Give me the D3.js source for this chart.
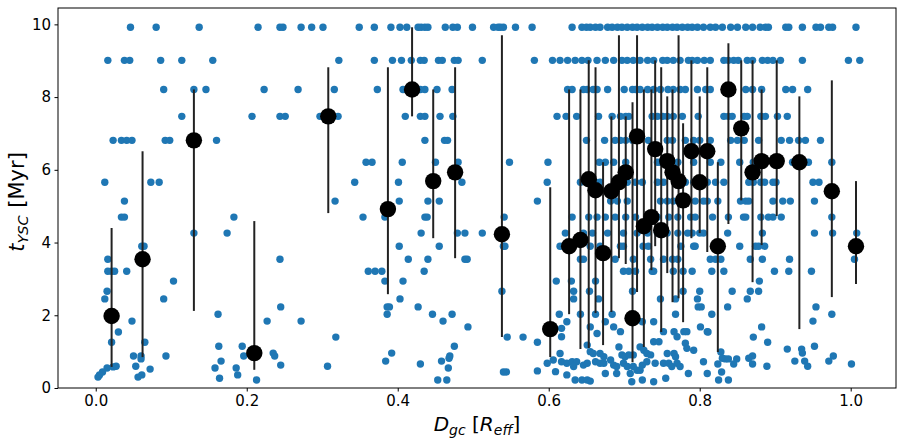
<!DOCTYPE html>
<html>
<head>
<meta charset="utf-8">
<script src="https://cdn.jsdelivr.net/npm/d3@7"></script>
<style>
  body { margin: 0; background: #fff; }
  svg { display: block; font-family: "DejaVu Sans", sans-serif; }
  .axis text { font-size: 15px; fill: #000; }
  .axis line { stroke: #000; }
</style>
</head>
<body>
<svg id="chart"></svg>
<script>
let w = 904;
let h = 446;

// discrete age grid of the models (Myr), one row of clusters per age
let ages = [9.92, 9.01, 8.21, 7.47, 6.81, 6.21, 5.66, 5.14, 4.70, 4.26, 3.90, 3.54, 3.21];

// D_gc of the clusters sitting on each age row above
let rowDist = [
  [0.046, 0.080, 0.137, 0.215, 0.244, 0.248, 0.272, 0.286, 0.301, 0.349, 0.369, 0.391, 0.403, 0.412, 0.427, 0.431, 0.436, 0.440, 0.463, 0.473, 0.479, 0.499, 0.527, 0.533, 0.536, 0.540, 0.556, 0.578, 0.631, 0.644, 0.650, 0.655, 0.662, 0.668, 0.678, 0.684, 0.691, 0.697, 0.704, 0.711, 0.717, 0.724, 0.731, 0.737, 0.744, 0.751, 0.757, 0.764, 0.770, 0.777, 0.784, 0.790, 0.797, 0.805, 0.814, 0.821, 0.830, 0.841, 0.850, 0.861, 0.870, 0.880, 0.887, 0.891, 0.914, 0.918, 0.936, 0.954, 0.960, 0.971, 0.976, 1.007],
  [0.016, 0.038, 0.045, 0.086, 0.114, 0.155, 0.322, 0.369, 0.393, 0.405, 0.418, 0.430, 0.435, 0.454, 0.459, 0.475, 0.480, 0.512, 0.581, 0.605, 0.615, 0.625, 0.635, 0.644, 0.652, 0.664, 0.675, 0.686, 0.697, 0.704, 0.712, 0.721, 0.731, 0.739, 0.751, 0.757, 0.765, 0.774, 0.785, 0.790, 0.797, 0.806, 0.814, 0.832, 0.838, 0.845, 0.851, 0.863, 0.870, 0.883, 0.890, 0.897, 0.907, 0.936, 0.997, 1.012],
  [0.090, 0.130, 0.146, 0.223, 0.268, 0.316, 0.373, 0.407, 0.419, 0.430, 0.436, 0.452, 0.472, 0.625, 0.631, 0.646, 0.651, 0.659, 0.664, 0.678, 0.700, 0.711, 0.715, 0.721, 0.731, 0.739, 0.748, 0.758, 0.765, 0.774, 0.781, 0.797, 0.808, 0.814, 0.838, 0.861, 0.870, 0.882, 0.914, 0.923, 0.943],
  [0.114, 0.207, 0.244, 0.251, 0.297, 0.321, 0.410, 0.430, 0.436, 0.456, 0.473, 0.611, 0.623, 0.637, 0.666, 0.684, 0.695, 0.702, 0.706, 0.737, 0.744, 0.751, 0.757, 0.765, 0.777, 0.798, 0.832, 0.838, 0.843, 0.859, 0.863, 0.881, 0.887, 0.903, 0.916],
  [0.023, 0.034, 0.041, 0.048, 0.092, 0.098, 0.160, 0.436, 0.462, 0.466, 0.650, 0.674, 0.688, 0.695, 0.702, 0.711, 0.732, 0.757, 0.764, 0.781, 0.792, 0.800, 0.814, 0.841, 0.850, 0.859, 0.878, 0.908, 0.919, 0.931, 0.940, 0.960],
  [0.358, 0.366, 0.406, 0.450, 0.480, 0.548, 0.599, 0.667, 0.675, 0.686, 0.702, 0.744, 0.748, 0.771, 0.792, 0.814, 0.828, 0.853, 0.871, 0.883, 0.923, 0.944, 0.975],
  [0.012, 0.073, 0.084, 0.343, 0.401, 0.485, 0.598, 0.642, 0.653, 0.662, 0.668, 0.691, 0.704, 0.715, 0.724, 0.744, 0.752, 0.771, 0.781, 0.792, 0.810, 0.821, 0.832, 0.865, 0.871, 0.881, 0.886, 0.897, 0.901, 0.950, 0.958],
  [0.038, 0.317, 0.402, 0.440, 0.455, 0.585, 0.682, 0.691, 0.704, 0.748, 0.757, 0.765, 0.778, 0.794, 0.805, 0.810, 0.824, 0.854, 0.861, 0.865, 0.897, 0.910, 0.920, 0.952],
  [0.034, 0.038, 0.183, 0.354, 0.383, 0.436, 0.439, 0.541, 0.631, 0.653, 0.664, 0.675, 0.688, 0.702, 0.715, 0.731, 0.744, 0.759, 0.771, 0.788, 0.794, 0.817, 0.838, 0.858, 0.861, 0.881, 0.891, 0.897, 0.908, 0.975],
  [0.130, 0.174, 0.431, 0.479, 0.489, 0.512, 0.622, 0.646, 0.658, 0.678, 0.699, 0.717, 0.731, 0.744, 0.757, 0.771, 0.784, 0.790, 0.800, 0.805, 0.837, 0.883, 0.952, 0.976, 1.008],
  [0.061, 0.064, 0.402, 0.455, 0.540, 0.542, 0.615, 0.625, 0.655, 0.668, 0.695, 0.699, 0.725, 0.732, 0.775, 0.792, 0.794, 0.853, 0.874, 0.878, 0.886],
  [0.016, 0.244, 0.414, 0.440, 0.489, 0.492, 0.642, 0.646, 0.688, 0.712, 0.735, 0.752, 0.764, 0.771, 0.814, 0.821, 0.828, 0.867, 0.883, 0.919, 1.005],
  [0.016, 0.021, 0.025, 0.041, 0.361, 0.370, 0.379, 0.435, 0.699, 0.706, 0.715, 0.737, 0.739, 0.765, 0.778, 0.790, 0.816, 0.832, 0.899, 0.918, 0.948]
];

// younger clusters, [D_gc, age]
let youngPts = [
  [0.103, 2.94], [0.383, 2.94], [0.407, 2.94], [0.610, 2.94], [0.630, 2.94], [0.662, 2.94], [0.879, 2.94],
  [0.015, 2.66], [0.538, 2.66], [0.633, 2.66], [0.654, 2.66], [0.711, 2.66], [0.778, 2.66], [0.800, 2.66], [0.843, 2.66], [0.867, 2.66], [0.878, 2.66],
  [0.012, 2.45], [0.090, 2.45], [0.403, 2.45], [0.633, 2.45], [0.666, 2.45], [0.748, 2.45], [0.768, 2.45], [0.797, 2.45], [0.863, 2.45],
  [0.245, 2.23], [0.386, 2.23], [0.389, 2.23], [0.427, 2.23], [0.798, 2.23], [0.802, 2.23], [0.837, 2.23], [0.954, 2.23],
  [0.162, 2.03], [0.386, 2.03], [0.446, 2.03], [0.472, 2.03], [0.614, 2.03], [0.642, 2.03], [0.662, 2.03], [0.684, 2.03], [0.711, 2.03], [0.768, 2.03], [0.816, 2.03], [0.975, 2.03],
  [0.048, 1.84], [0.227, 1.84], [0.272, 1.84], [0.460, 1.84], [0.950, 1.84],
  [0.030, 1.54], [0.493, 1.68], [0.811, 1.54], [0.882, 1.68],
  [0.318, 1.40], [0.545, 1.40], [0.566, 1.40], [0.871, 1.40],
  [0.021, 1.26], [0.065, 1.26], [0.585, 1.26], [0.890, 1.26],
  [0.163, 1.15], [0.194, 1.15], [0.475, 1.15], [0.952, 1.15],
  [0.916, 1.07], [0.935, 1.07], [0.828, 0.99],
  [0.235, 0.96], [0.392, 0.96], [0.936, 0.96],
  [0.050, 0.88], [0.060, 0.88], [0.093, 0.88], [0.196, 0.88], [0.237, 0.88], [0.469, 0.88], [0.870, 0.88], [0.977, 0.88],
  [0.060, 0.80], [0.468, 0.82], [0.830, 0.82], [0.834, 0.80], [0.838, 0.80], [0.849, 0.80], [0.865, 0.82],
  [0.166, 0.74], [0.384, 0.74], [0.458, 0.74], [0.926, 0.74], [0.939, 0.74], [0.971, 0.74],
  [0.053, 0.60], [0.023, 0.58], [0.027, 0.60], [0.307, 0.60], [0.430, 0.66], [0.245, 0.63], [0.824, 0.66], [0.845, 0.66], [0.870, 0.66], [0.889, 0.60], [0.943, 0.60], [1.001, 0.66],
  [0.015, 0.55], [0.072, 0.52], [0.158, 0.55], [0.186, 0.55], [0.467, 0.55],
  [0.009, 0.44], [0.544, 0.44], [0.585, 0.47], [0.540, 0.44], [0.829, 0.44],
  [0.005, 0.36], [0.061, 0.36], [0.188, 0.36],
  [0.003, 0.30], [0.056, 0.30], [0.164, 0.27],
  [0.213, 0.22], [0.453, 0.22], [0.465, 0.22], [0.825, 0.22], [0.838, 0.22]
];

// the crowded young clump at D_gc ~ 0.6-0.8, [D_gc, age]
let clumpPts = [
  [0.624, 1.82], [0.675, 1.82], [0.686, 1.68], [0.695, 1.55], [0.664, 1.50], [0.617, 1.64], [0.617, 1.41], [0.655, 1.68],
  [0.724, 1.82], [0.739, 1.82], [0.752, 1.55], [0.766, 1.55], [0.779, 1.55], [0.783, 1.55], [0.801, 1.68], [0.810, 1.55], [0.770, 1.41],
  [0.651, 1.18], [0.655, 1.00], [0.659, 0.95], [0.668, 0.95], [0.673, 0.86], [0.693, 1.13], [0.697, 0.91], [0.701, 0.86],
  [0.706, 0.91], [0.712, 0.91], [0.721, 1.13], [0.726, 1.04], [0.730, 0.95], [0.735, 0.91], [0.739, 1.27], [0.746, 1.27],
  [0.757, 0.95], [0.766, 0.95], [0.768, 0.86], [0.781, 1.23], [0.783, 1.09], [0.792, 1.04], [0.805, 0.72],
  [0.598, 0.68], [0.606, 0.77], [0.615, 0.95], [0.617, 0.72], [0.624, 0.68], [0.631, 0.72], [0.637, 0.72], [0.633, 0.59],
  [0.646, 0.63], [0.651, 0.68], [0.662, 0.72], [0.668, 0.68], [0.673, 0.68], [0.682, 0.77], [0.686, 0.63], [0.690, 0.59],
  [0.699, 0.68], [0.704, 0.59], [0.712, 0.59], [0.717, 0.49], [0.724, 0.63], [0.730, 0.72], [0.741, 0.68], [0.752, 0.68],
  [0.759, 0.68], [0.763, 0.59], [0.770, 0.68], [0.774, 0.59],
  [0.609, 0.45], [0.624, 0.36], [0.675, 0.40], [0.690, 0.40], [0.708, 0.40], [0.721, 0.49], [0.710, 0.17], [0.724, 0.22],
  [0.739, 0.17], [0.755, 0.27], [0.785, 0.40], [0.810, 0.40], [0.635, 0.22], [0.644, 0.22], [0.651, 0.22], [0.655, 0.19]
];

// binned means with their age spread
let meanDist = [0.021, 0.062, 0.130, 0.210, 0.308, 0.387, 0.419, 0.447, 0.476, 0.538, 0.602, 0.627, 0.642, 0.653, 0.662, 0.672, 0.683, 0.693, 0.702, 0.711, 0.717, 0.726, 0.736, 0.741, 0.749, 0.757, 0.764, 0.772, 0.778, 0.789, 0.800, 0.810, 0.824, 0.838, 0.855, 0.870, 0.882, 0.902, 0.932, 0.975, 1.007];
let meanAge  = [1.98, 3.54, 6.81, 0.96, 7.47, 4.92, 8.21, 5.69, 5.93, 4.23, 1.62, 3.90, 4.07, 5.74, 5.44, 3.71, 5.41, 5.66, 5.93, 1.92, 6.92, 4.45, 4.70, 6.57, 4.34, 6.24, 5.93, 5.69, 5.16, 6.51, 5.66, 6.51, 3.90, 8.21, 7.14, 5.93, 6.24, 6.24, 6.21, 5.41, 3.90];
let ageHigh  = [4.40, 6.51, 8.21, 4.59, 8.82, 8.82, 9.92, 8.21, 8.82, 9.70, 5.52, 8.21, 8.21, 9.01, 8.82, 6.21, 7.47, 9.70, 7.47, 7.86, 9.70, 8.21, 8.21, 9.01, 8.82, 8.02, 8.21, 9.70, 7.28, 9.01, 8.02, 8.82, 6.21, 9.48, 9.01, 9.01, 8.21, 9.01, 8.02, 8.46, 5.69];
let ageLow   = [0.58, 0.85, 2.12, 0.50, 4.81, 2.58, 7.47, 4.12, 3.57, 1.40, 0.85, 2.03, 1.07, 1.10, 2.06, 1.18, 2.09, 3.57, 3.41, 0.71, 2.64, 1.13, 3.24, 3.90, 1.54, 3.16, 2.36, 2.47, 1.81, 4.12, 4.26, 3.74, 0.99, 4.51, 5.16, 2.91, 3.93, 4.73, 1.62, 2.50, 2.86];

let xTicks = [0.0, 0.2, 0.4, 0.6, 0.8, 1.0];
let yTicks = [0, 2, 4, 6, 8, 10];

let padLeft = 58, padRight = 896, padTop = 8, padBottom = 388;

let svg = d3.select('#chart').attr('width', w).attr('height', h);

let xScale = d3.scaleLinear().domain([-0.05, 1.06]).range([padLeft, padRight]);
let yScale = d3.scaleLinear().domain([0, 10.45]).range([padBottom, padTop]);

// flatten the rows into points
let blue = [];
ages.forEach((a, i) => rowDist[i].forEach((d) => blue.push({ d: d, age: a })));
youngPts.concat(clumpPts).forEach((p) => blue.push({ d: p[0], age: p[1] }));

let means = meanDist.map((d, i) => ({ d: d, age: meanAge[i], hi: ageHigh[i], lo: ageLow[i] }));

svg.append('g')
  .selectAll('circle')
  .data(blue)
  .enter()
  .append('circle')
  .attr('cx', (p) => xScale(p.d))
  .attr('cy', (p) => yScale(p.age))
  .attr('r', 3.7)
  .attr('fill', '#1f77b4');

// error bars
svg.append('g')
  .selectAll('line')
  .data(means)
  .enter()
  .append('line')
  .attr('x1', (m) => xScale(m.d))
  .attr('x2', (m) => xScale(m.d))
  .attr('y1', (m) => yScale(m.lo))
  .attr('y2', (m) => yScale(m.hi))
  .attr('stroke', '#222')
  .attr('stroke-width', 2);

svg.append('g')
  .selectAll('circle')
  .data(means)
  .enter()
  .append('circle')
  .attr('cx', (m) => xScale(m.d))
  .attr('cy', (m) => yScale(m.age))
  .attr('r', 8.2)
  .attr('fill', '#000');

// AXES
let xAxis = d3.axisBottom(xScale).tickValues(xTicks).tickFormat(d3.format('.1f'))
  .tickSizeInner(3.5).tickSizeOuter(0).tickPadding(3.5);
let yAxis = d3.axisLeft(yScale).tickValues(yTicks).tickFormat(d3.format('d'))
  .tickSizeInner(3.5).tickSizeOuter(0).tickPadding(3.5);

let xAxisGroup = svg.append('g')
  .attr('class', 'axis')
  .attr('transform', `translate(0, ${padBottom})`)
  .call(xAxis);
let yAxisGroup = svg.append('g')
  .attr('class', 'axis')
  .attr('transform', `translate(${padLeft}, 0)`)
  .call(yAxis);
xAxisGroup.select('.domain').remove();
yAxisGroup.select('.domain').remove();
svg.selectAll('.axis text').attr('font-family', '"DejaVu Sans", sans-serif');

svg.append('rect')
  .attr('x', padLeft)
  .attr('y', padTop)
  .attr('width', padRight - padLeft)
  .attr('height', padBottom - padTop)
  .attr('fill', 'none')
  .attr('stroke', '#000')
  .attr('stroke-width', 1);

// axis labels
let xLabel = svg.append('text')
  .attr('x', (padLeft + padRight) / 2)
  .attr('y', 431)
  .attr('text-anchor', 'middle')
  .attr('font-size', 20);
xLabel.append('tspan').attr('font-style', 'italic').text('D');
xLabel.append('tspan').attr('font-style', 'italic').attr('font-size', 14).attr('dy', 4).text('gc');
xLabel.append('tspan').attr('dy', -4).text(' [');
xLabel.append('tspan').attr('font-style', 'italic').text('R');
xLabel.append('tspan').attr('font-style', 'italic').attr('font-size', 14).attr('dy', 4).text('eff');
xLabel.append('tspan').attr('dy', -4).text(']');

let yLabel = svg.append('text')
  .attr('transform', `translate(24, 202) rotate(-90)`)
  .attr('text-anchor', 'middle')
  .attr('font-size', 21);
yLabel.append('tspan').attr('font-style', 'italic').text('t');
yLabel.append('tspan').attr('font-style', 'italic').attr('font-size', 14.5).attr('dy', 4).text('YSC');
yLabel.append('tspan').attr('dy', -4).attr('dx', 1).text(' [Myr]');
</script>
</body>
</html>
